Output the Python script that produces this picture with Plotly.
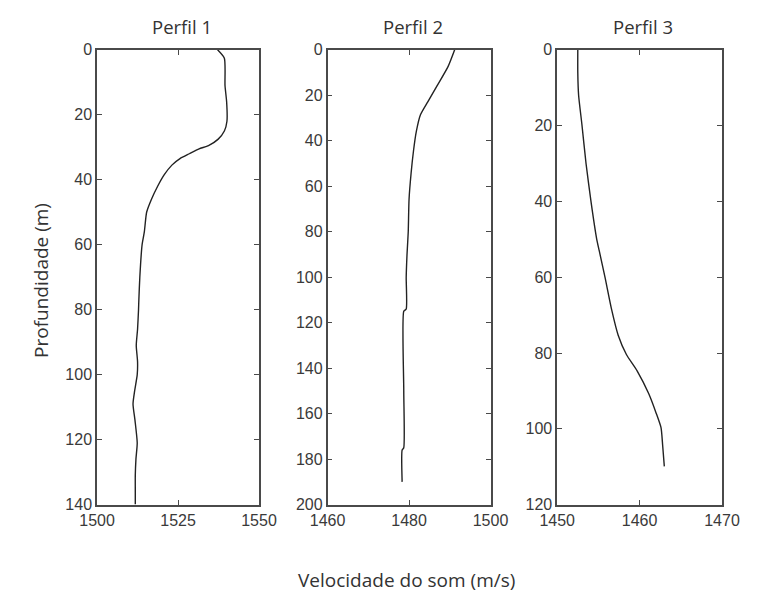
import plotly.graph_objects as go

# Perfil 1
p1_depth = [0, 2.6, 11, 16, 22, 25, 27.5, 29.5, 30.5, 32, 33.5, 35.5, 38.5, 42, 46, 50, 56, 60, 70, 77, 80, 86, 91, 96, 100, 105, 109, 114, 121, 126, 131, 136, 140]
p1_speed = [1537.2, 1539.3, 1539.5, 1540.0, 1540.1, 1539.3, 1537.4, 1534.4, 1531.5, 1528.5, 1525.6, 1523.1, 1520.7, 1518.7, 1516.8, 1515.3, 1514.6, 1513.9, 1513.2, 1512.9, 1512.8, 1512.5, 1512.1, 1512.5, 1512.4, 1511.6, 1511.1, 1511.7, 1512.4, 1512.0, 1511.8, 1511.8, 1511.8]

# Perfil 2
p2_depth = [0, 7.3, 15.8, 22.9, 28.6, 35.8, 44.3, 54.3, 65.7, 80, 90, 100, 114, 115, 150, 175, 176, 190]
p2_speed = [1491.2, 1489.6, 1486.9, 1484.6, 1482.8, 1481.8, 1481.1, 1480.5, 1480.0, 1479.8, 1479.5, 1479.3, 1479.3, 1478.7, 1478.7, 1478.7, 1478.3, 1478.3]

# Perfil 3
p3_depth = [0, 6, 12, 19.7, 30, 40, 50, 53, 60, 68.5, 75.3, 80.4, 84.7, 90.7, 95.8, 99.7, 104.4, 109.9]
p3_speed = [1452.5, 1452.5, 1452.6, 1453.0, 1453.5, 1454.1, 1454.8, 1455.1, 1455.8, 1456.6, 1457.4, 1458.4, 1459.7, 1461.1, 1462.0, 1462.6, 1462.8, 1463.0]

titles = ["Perfil 1", "Perfil 2", "Perfil 3"]
x_ticks = [[1500, 1525, 1550], [1460, 1480, 1500], [1450, 1460, 1470]]
x_ranges = [[1500, 1550], [1460, 1500], [1450, 1470]]
y_ranges = [[140, 0], [200, 0], [120, 0]]
y_dticks = [20, 20, 20]

W, H = 760, 604
x_px = [(83, 253), (325, 496), (566, 739)]
y_px = (43, 511)
ydom = [(H - y_px[1]) / H, (H - y_px[0]) / H]

fig = go.Figure()
series = [(p1_speed, p1_depth), (p2_speed, p2_depth), (p3_speed, p3_depth)]
tickfont = dict(family="Liberation Sans, Arial, sans-serif", size=16, color="#3a3a3a")
for i, (xs, ys) in enumerate(series):
    n = "" if i == 0 else str(i + 1)
    fig.add_trace(go.Scatter(x=xs, y=ys, mode="lines", line=dict(color="#222222", width=1.4, shape="spline", smoothing=0.6),
                             xaxis="x" + n, yaxis="y" + n, showlegend=False, hoverinfo="skip"))
    axcommon = dict(showline=True, linecolor="#4a4a4a", linewidth=1.6, mirror="ticks",
                    ticks="inside", ticklen=5, tickwidth=1, tickcolor="#4a4a4a",
                    showgrid=False, zeroline=False, tickfont=tickfont)
    fig.layout["xaxis" + n] = dict(domain=[x_px[i][0] / W, x_px[i][1] / W], range=x_ranges[i],
                                   tickvals=x_ticks[i], anchor="y" + n, **axcommon)
    fig.layout["yaxis" + n] = dict(domain=ydom, range=y_ranges[i], dtick=y_dticks[i], tick0=0,
                                   anchor="x" + n, **axcommon)
    fig.add_annotation(text=titles[i], xref="paper", yref="paper",
                       x=(x_px[i][0] + x_px[i][1] + 8) / 2 / W, y=(H - 19) / H,
                       showarrow=False, font=dict(family="Open Sans, sans-serif", size=18.5, color="#333333"),
                       xanchor="center", yanchor="middle")

titlefont = dict(family="Open Sans, sans-serif", size=19, color="#333333")
fig.add_annotation(text="Profundidade (m)", xref="paper", yref="paper", x=24 / W, y=(H - 280) / H,
                   textangle=-90, showarrow=False, font=titlefont, xanchor="center", yanchor="middle")
fig.add_annotation(text="Velocidade do som (m/s)", xref="paper", yref="paper", x=408 / W, y=(H - 589) / H,
                   showarrow=False, font=titlefont, xanchor="center", yanchor="middle")

fig.update_layout(width=W, height=H, margin=dict(l=0, r=0, t=0, b=0),
                  paper_bgcolor="white", plot_bgcolor="white")
fig.write_html("out.html")
